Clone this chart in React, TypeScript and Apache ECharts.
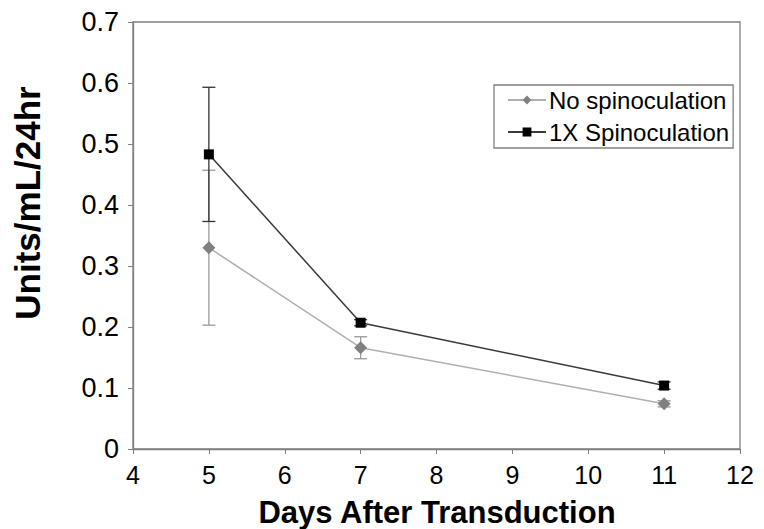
import React, { useEffect, useRef } from "react";
import * as echarts from "echarts";

const days = [5, 7, 11];
const noSpinMean = [0.33, 0.166, 0.074];
const noSpinErr = [0.127, 0.018, 0.005];
const spinMean = [0.483, 0.207, 0.104];
const spinErr = [0.11, 0.005, 0.006];

const yTicks = [0, 0.1, 0.2, 0.3, 0.4, 0.5, 0.6, 0.7];

const FONT = "Liberation Sans, Arial, sans-serif";

function errorSeries(name: string, means: number[], errs: number[], color: string) {
  const data = days.map((d, i) => [d, means[i] - errs[i], means[i] + errs[i]]);
  return {
    type: "custom",
    name: name + " err",
    data,
    z: 1,
    silent: true,
    renderItem: (params: any, api: any) => {
      const x = api.value(0);
      const lo = api.coord([x, api.value(1)]);
      const hi = api.coord([x, api.value(2)]);
      const half = 6.5;
      const style = { stroke: color, lineWidth: 1.3 };
      return {
        type: "group",
        children: [
          { type: "line", shape: { x1: lo[0], y1: lo[1], x2: hi[0], y2: hi[1] }, style },
          { type: "line", shape: { x1: lo[0] - half, y1: lo[1], x2: lo[0] + half, y2: lo[1] }, style },
          { type: "line", shape: { x1: hi[0] - half, y1: hi[1], x2: hi[0] + half, y2: hi[1] }, style },
        ],
      };
    },
  };
}

export default function App() {
  const ref = useRef<HTMLDivElement>(null);

  useEffect(() => {
    if (!ref.current) return;
    const chart = echarts.init(ref.current, undefined, { renderer: "svg" });
    const axisLine = { show: true, lineStyle: { color: "#808080", width: 1.3 } };
    chart.setOption({
      animation: false,
      backgroundColor: "#ffffff",
      grid: {
        left: 133,
        right: 24,
        top: 22,
        bottom: 80,
        show: true,
        borderColor: "#808080",
        borderWidth: 1.3,
      },
      legend: {
        orient: "vertical",
        left: 494,
        top: 85,
        borderColor: "#808080",
        borderWidth: 1.3,
        borderRadius: 0,
        padding: [3, 4, 4, 13],
        itemGap: 8,
        itemWidth: 38,
        itemHeight: 11,
        textStyle: {
          fontFamily: FONT,
          fontSize: 24,
          lineHeight: 24,
          color: "#000",
          padding: [0, 0, 0, -2],
        },
        data: ["No spinoculation", "1X Spinoculation"],
      },
      xAxis: {
        type: "value",
        min: 4,
        max: 12,
        interval: 1,
        axisLine,
        axisTick: { show: true, length: 5, lineStyle: { color: "#808080" } },
        splitLine: { show: false },
        axisLabel: { fontFamily: FONT, fontSize: 25, color: "#000", margin: 13 },
      },
      yAxis: {
        type: "value",
        min: 0,
        max: 0.7,
        interval: 0.1,
        axisLine,
        axisTick: { show: true, length: 5, lineStyle: { color: "#808080" } },
        splitLine: { show: false },
        axisLabel: {
          fontFamily: FONT,
          fontSize: 27,
          color: "#000",
          margin: 14,
          formatter: (v: number) => {
            const t = yTicks.find((k) => Math.abs(k - v) < 1e-6);
            return t === undefined ? "" : t === 0 ? "0" : t.toFixed(1);
          },
        },
      },
      graphic: [
        {
          type: "text",
          x: 437,
          y: 512,
          style: {
            text: "Days After Transduction",
            fontFamily: FONT,
            fontSize: 31,
            fontWeight: "bold",
            fill: "#000",
            align: "center",
            verticalAlign: "middle",
          },
        },
        {
          type: "text",
          x: 27,
          y: 203,
          rotation: Math.PI / 2,
          style: {
            text: "Units/mL/24hr",
            fontFamily: FONT,
            fontSize: 35,
            fontWeight: "bold",
            fill: "#000",
            align: "center",
            verticalAlign: "middle",
          },
        },
      ],
      series: [
        errorSeries("No spinoculation", noSpinMean, noSpinErr, "#9a9a9a"),
        errorSeries("1X Spinoculation", spinMean, spinErr, "#333333"),
        {
          type: "line",
          name: "No spinoculation",
          data: days.map((d, i) => [d, noSpinMean[i]]),
          symbol: "diamond",
          symbolSize: 13,
          z: 3,
          lineStyle: { color: "#b0b0b0", width: 1.5 },
          itemStyle: { color: "#808080" },
        },
        {
          type: "line",
          name: "1X Spinoculation",
          data: days.map((d, i) => [d, spinMean[i]]),
          symbol: "rect",
          symbolSize: 10,
          z: 4,
          lineStyle: { color: "#3a3a3a", width: 1.5 },
          itemStyle: { color: "#000000" },
        },
      ],
    });
    return () => chart.dispose();
  }, []);

  return <div ref={ref} style={{ width: 764, height: 529, position: "absolute", left: 0, top: 0 }} />;
}
